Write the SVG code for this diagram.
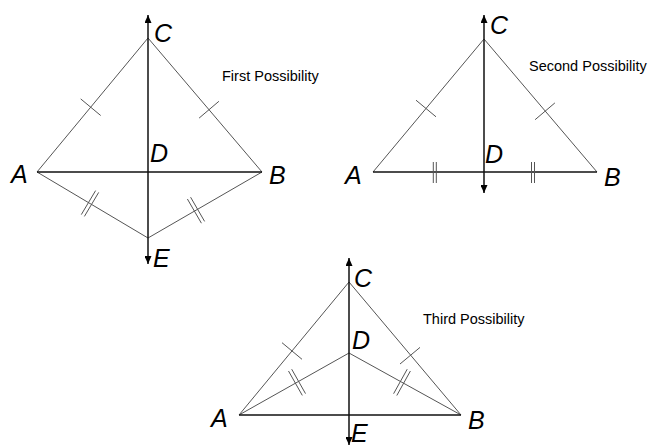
<svg xmlns="http://www.w3.org/2000/svg" width="651" height="446" viewBox="0 0 651 446">
<defs>
<marker id="arr" markerUnits="userSpaceOnUse" markerWidth="8" markerHeight="7" refX="8" refY="3.5" orient="auto-start-reverse">
<path d="M0,0 L8,3.5 L0,7 z" fill="#000"/>
</marker>
<style>
.side{stroke:#555;stroke-width:1;fill:none}
.base{stroke:#111;stroke-width:1.5;fill:none}
.axis{stroke:#111;stroke-width:1.5;fill:none;marker-start:url(#arr);marker-end:url(#arr)}
.tick{stroke:#555;stroke-width:1;fill:none}
.pt{font-family:"Liberation Sans",Arial,sans-serif;font-style:italic;font-size:25px;fill:#000}
.cap{font-family:"Liberation Sans",Arial,sans-serif;font-size:14.5px;fill:#000}
</style>
</defs>
<rect width="651" height="446" fill="#fff"/>

<g id="figure1">
<g id="connectors1">
<line class="side" x1="37" y1="172" x2="148" y2="38"/>
<line class="side" x1="262" y1="172" x2="148" y2="38"/>
<line class="side" x1="37" y1="172" x2="148" y2="238"/>
<line class="side" x1="262" y1="172" x2="148" y2="238"/>
<line class="base" x1="37" y1="172" x2="262" y2="172"/>
<line class="axis" x1="148" y1="15" x2="148" y2="264"/>
<line class="tick" x1="80.7" y1="98.9" x2="100.7" y2="115.5"/>
<line class="tick" x1="199.1" y1="118.1" x2="218.9" y2="101.3"/>
<line class="tick" x1="95.6" y1="190.6" x2="81.3" y2="214.6"/>
<line class="tick" x1="98.7" y1="192.4" x2="84.4" y2="216.4"/>
<line class="tick" x1="201.4" y1="223.2" x2="187.4" y2="199"/>
<line class="tick" x1="204.6" y1="221.4" x2="190.6" y2="197.2"/>
</g>
<g id="f1-C"><text class="pt" x="154" y="42">C</text></g>
<g id="f1-A"><text class="pt" x="11" y="183">A</text></g>
<g id="f1-B"><text class="pt" x="269" y="184">B</text></g>
<g id="f1-D"><text class="pt" x="150" y="162">D</text></g>
<g id="f1-E"><text class="pt" x="153" y="267">E</text></g>
<g id="f1-title"><text class="cap" x="222" y="81">First Possibility</text></g>
</g>

<g id="figure2">
<g id="connectors2">
<line class="side" x1="373" y1="172" x2="484" y2="39"/>
<line class="side" x1="597" y1="172" x2="484" y2="39"/>
<line class="base" x1="373" y1="172" x2="597" y2="172"/>
<line class="axis" x1="484" y1="15" x2="484" y2="193"/>
<line class="tick" x1="416" y1="100.2" x2="436" y2="116.8"/>
<line class="tick" x1="535.1" y1="119.7" x2="554.9" y2="102.9"/>
<line class="tick" x1="433.3" y1="162" x2="433.3" y2="183"/>
<line class="tick" x1="436.3" y1="162" x2="436.3" y2="183"/>
<line class="tick" x1="531.5" y1="162" x2="531.5" y2="183"/>
<line class="tick" x1="534.5" y1="162" x2="534.5" y2="183"/>
</g>
<g id="f2-C"><text class="pt" x="490" y="34">C</text></g>
<g id="f2-A"><text class="pt" x="345" y="184">A</text></g>
<g id="f2-B"><text class="pt" x="604" y="186">B</text></g>
<g id="f2-D"><text class="pt" x="485" y="163">D</text></g>
<g id="f2-title"><text class="cap" x="529" y="71">Second Possibility</text></g>
</g>

<g id="figure3">
<g id="connectors3">
<line class="side" x1="239" y1="415" x2="349" y2="282"/>
<line class="side" x1="461" y1="415" x2="349" y2="282"/>
<line class="side" x1="239" y1="415" x2="349" y2="353"/>
<line class="side" x1="461" y1="415" x2="349" y2="353"/>
<line class="base" x1="239" y1="415" x2="461" y2="415"/>
<line class="axis" x1="349" y1="258" x2="349" y2="445"/>
<line class="tick" x1="282" y1="342.7" x2="302" y2="359.3"/>
<line class="tick" x1="400" y1="364" x2="420" y2="347.4"/>
<line class="tick" x1="288.5" y1="371" x2="302.3" y2="395.4"/>
<line class="tick" x1="291.7" y1="369.2" x2="305.5" y2="393.6"/>
<line class="tick" x1="393.6" y1="393.7" x2="407.2" y2="369.2"/>
<line class="tick" x1="396.8" y1="395.5" x2="410.4" y2="371"/>
</g>
<g id="f3-C"><text class="pt" x="354" y="287">C</text></g>
<g id="f3-A"><text class="pt" x="211" y="427">A</text></g>
<g id="f3-B"><text class="pt" x="468" y="429">B</text></g>
<g id="f3-D"><text class="pt" x="352" y="349">D</text></g>
<g id="f3-E"><text class="pt" x="351" y="442">E</text></g>
<g id="f3-title"><text class="cap" x="423" y="324">Third Possibility</text></g>
</g>
</svg>
